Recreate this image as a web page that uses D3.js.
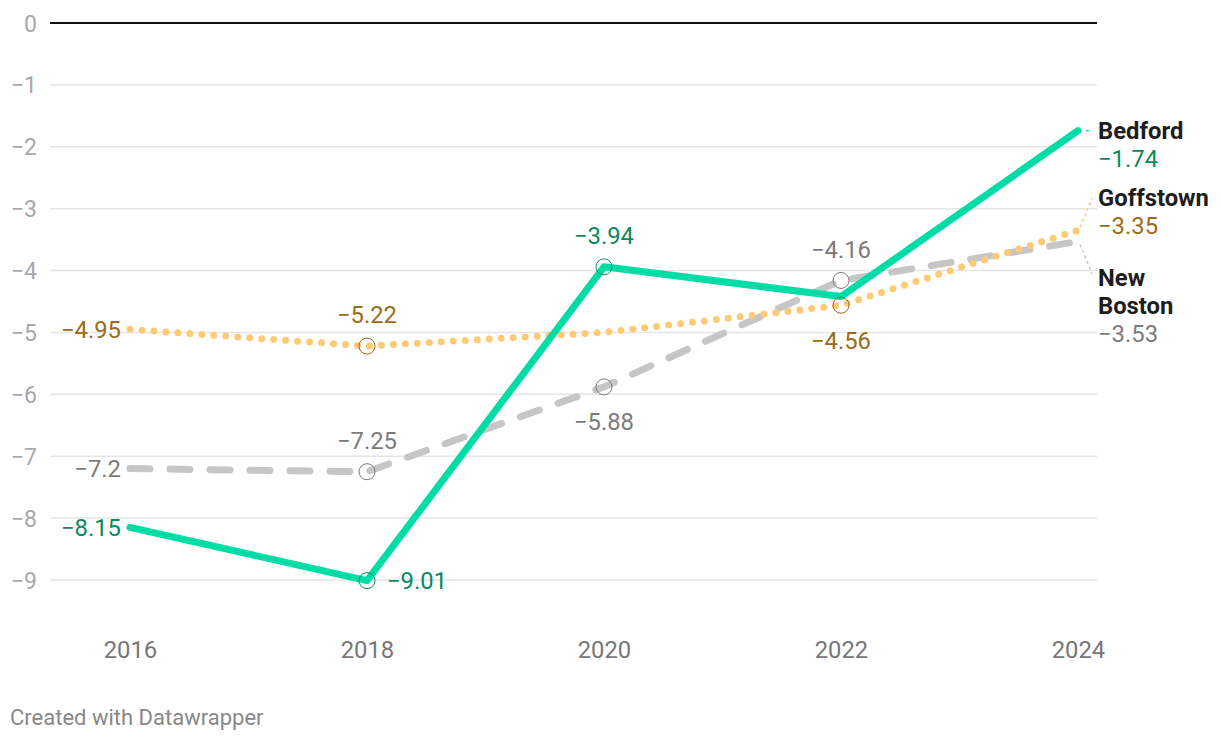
<!DOCTYPE html>
<html>
<head>
<meta charset="utf-8">
<script src="https://cdn.jsdelivr.net/npm/d3@7"></script>
<style>
  html, body { margin: 0; padding: 0; background: #fff; }
  svg { display: block; font-family: Roboto, "Noto Sans", sans-serif; }
</style>
</head>
<body>
<svg id="chart" width="1220" height="740"></svg>
<script>
// ---- data ----
const years = [2016, 2018, 2020, 2022, 2024];
const bedford = [-8.15, -9.01, -3.94, -4.42, -1.74];
const goffstown = [-4.95, -5.22, -5.0, -4.56, -3.35];
const newBoston = [-7.2, -7.25, -5.88, -4.16, -3.53];
const yTicks = [0, -1, -2, -3, -4, -5, -6, -7, -8, -9];
const xTicks = [2016, 2018, 2020, 2022, 2024];
const seriesNames = ["New Boston", "Goffstown", "Bedford"];
// which points carry a value label: index -> placement
const newBostonLabels = {0: "left", 1: "above", 2: "below", 3: "above"};
const goffstownLabels = {0: "left", 1: "above", 3: "below"};
const bedfordLabels = {0: "left", 1: "right", 2: "above"};

// ---- styles ----
const styles = {
  "New Boston": {stroke: "#c6c6c6", text: "#7b7b7b", dash: "20 20", nameLines: ["New", "Boston"], nameY: 278},
  "Goffstown": {stroke: "#ffca76", text: "#9c6b19", dash: "0 12", nameLines: ["Goffstown"], nameY: 198},
  "Bedford": {stroke: "#00dca6", text: "#0a8a5c", dash: null, nameLines: ["Bedford"], nameY: 131}
};
const seriesValues = {"New Boston": newBoston, "Goffstown": goffstown, "Bedford": bedford};
const seriesLabels = {"New Boston": newBostonLabels, "Goffstown": goffstownLabels, "Bedford": bedfordLabels};

const FS = 23.8;
const svg = d3.select("#chart");
const x = d3.scaleLinear().domain([2016, 2024]).range([130, 1078]);
const y = d3.scaleLinear().domain([0, -9]).range([23, 580]);
const gridX0 = 50, gridX1 = 1097;
const fmt = v => String(v).replace("-", "\u2212");

// grid
const grid = svg.append("g");
grid.selectAll("line").data(yTicks).join("line")
  .attr("x1", gridX0).attr("x2", gridX1)
  .attr("y1", d => y(d)).attr("y2", d => y(d))
  .attr("stroke", d => d === 0 ? "#111" : "#e5e5e5")
  .attr("stroke-width", d => d === 0 ? 2 : 1.5);

// y axis labels
const yAxis = d3.axisLeft(y).tickValues(yTicks).tickSize(0).tickPadding(0).tickFormat(fmt);
const yg = svg.append("g").attr("transform", "translate(37,0)").call(yAxis);
yg.select(".domain").remove();
yg.selectAll("text").attr("font-size", 23).attr("fill", "#a8a8a8")
  .attr("font-family", "Roboto").attr("dy", "0.35em");

// x axis labels
const xAxis = d3.axisBottom(x).tickValues(xTicks).tickSize(0).tickPadding(0).tickFormat(d3.format("d"));
const xg = svg.append("g").attr("transform", "translate(0,650)").call(xAxis);
xg.select(".domain").remove();
xg.selectAll("text").attr("font-size", FS).attr("fill", "#777").attr("font-family", "Roboto")
  .attr("dy", "0.35em");

// lines
const line = d3.line().x(d => x(d.year)).y(d => y(d.value));
seriesNames.forEach(name => {
  const st = styles[name];
  const pts = years.map((yr, i) => ({year: yr, value: seriesValues[name][i]}));
  svg.append("path").datum(pts)
    .attr("d", line)
    .attr("fill", "none")
    .attr("stroke", st.stroke)
    .attr("stroke-width", 7)
    .attr("stroke-linecap", "round")
    .attr("stroke-linejoin", "round")
    .attr("stroke-dasharray", st.dash);
});

// point markers & value labels
const offA = 31, offB = 35;
seriesNames.forEach(name => {
  const st = styles[name];
  const vals = seriesValues[name];
  const labs = seriesLabels[name];
  Object.keys(labs).forEach(k => {
    const i = +k;
    const px = x(years[i]), py = y(vals[i]);
    const place = labs[k];
    if (i > 0 && i < years.length - 1) {
      svg.append("circle").attr("cx", px).attr("cy", py).attr("r", 8)
        .attr("fill", "none").attr("stroke", st.text).attr("stroke-width", 1);
    }
    const t = svg.append("text").text(fmt(vals[i]))
      .attr("font-size", FS).attr("fill", st.text).attr("dy", "0.35em");
    if (place === "left") t.attr("x", px - 9).attr("y", py).attr("text-anchor", "end");
    else if (place === "right") t.attr("x", px + 20).attr("y", py).attr("text-anchor", "start");
    else if (place === "above") t.attr("x", px).attr("y", py - offA).attr("text-anchor", "middle");
    else t.attr("x", px).attr("y", py + offB).attr("text-anchor", "middle");
  });
});

// end labels with connectors
seriesNames.forEach(name => {
  const st = styles[name];
  const vals = seriesValues[name];
  const last = vals[vals.length - 1];
  const ex = x(years[years.length - 1]), ey = y(last);
  const lx = 1098;
  const targetY = st.nameY;
  const dy = targetY - ey;
  const startY = Math.abs(dy) < 3 ? ey : ey + (dy > 0 ? 3 : -3);
  svg.append("line")
    .attr("x1", Math.abs(dy) < 3 ? ex + 8 : ex + 2).attr("y1", startY)
    .attr("x2", lx - 6).attr("y2", Math.abs(dy) < 3 ? ey : targetY + (dy > 0 ? -4 : 0))
    .attr("stroke", st.stroke).attr("stroke-width", 1.5)
    .attr("stroke-dasharray", "3 3");
  st.nameLines.forEach((ln, j) => {
    svg.append("text").text(ln).attr("x", lx).attr("y", targetY + j * 28)
      .attr("dy", "0.35em").attr("font-size", FS).attr("font-weight", "bold").attr("fill", "#1d1d1d");
  });
  svg.append("text").text(fmt(last)).attr("x", lx).attr("y", targetY + st.nameLines.length * 28)
    .attr("dy", "0.35em").attr("font-size", FS).attr("fill", st.text);
});

// footer
svg.append("text").text("Created with Datawrapper")
  .attr("x", 10).attr("y", 717).attr("dy", "0.35em")
  .attr("font-size", 22).attr("fill", "#888");
</script>
</body>
</html>
